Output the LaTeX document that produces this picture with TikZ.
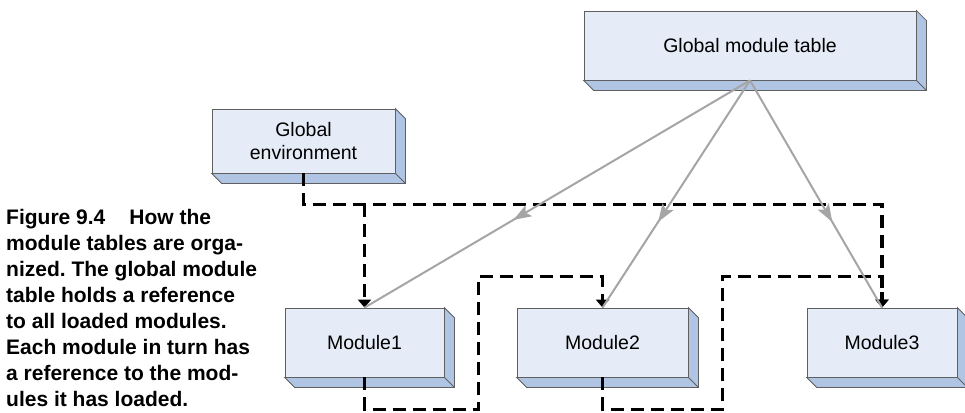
\documentclass[tikz,border=0pt]{standalone}
\usepackage{fontspec}
\setmainfont{Liberation Sans}
\usetikzlibrary{arrows.meta,decorations.markings,calc}

\definecolor{boxfront}{RGB}{230,236,247}
\definecolor{boxside}{RGB}{176,197,228}
\definecolor{boxedge}{RGB}{95,95,95}
\definecolor{tablegray}{RGB}{165,165,165}

\begin{document}
\frenchspacing
\begin{tikzpicture}[
  x=1pt, y=-1pt,
  every node/.style={font=\fontsize{19.5}{23}\selectfont},
  modbox/.style={draw=boxedge, line width=0.8pt, fill=boxfront,
    inner sep=0pt, minimum height=69pt, align=center},
  tabline/.style={draw=tablegray, line width=2pt, postaction={decorate},
    decoration={markings, mark=at position 0.6 with
      {\fill[tablegray] (6pt,0pt) -- (-12pt,6.5pt) -- (-8pt,0pt)
         -- (-12pt,-6.5pt) -- cycle;}}},
  refline/.style={line width=3.4pt, dash pattern=on 13pt off 7pt,
    -{Triangle[length=8pt,width=13pt]}}
]

\useasboundingbox (0,0) rectangle (965,412);

% --- front faces of the boxes ---
\node[modbox, minimum width=332pt] (gmt) at (750,45.5) {Global module table};
\node[modbox, minimum width=183pt, minimum height=64pt] (genv) at (303.5,141) {Global\\environment};
\node[modbox, minimum width=159pt] (mod1) at (364.5,342.5) {Module1};
\node[modbox, minimum width=171pt] (mod2) at (602.5,342.5) {Module2};
\node[modbox, minimum width=150pt] (mod3) at (882,342.5) {Module3};

% --- bottom and right sides (depth 10) ---
\foreach \n in {gmt,genv,mod1,mod2,mod3}{
  \filldraw[fill=boxside, draw=boxedge, line width=0.8pt]
    (\n.south west) -- ++(10,10) -| ($(\n.north east)+(10,10)$)
    -- (\n.north east) -- (\n.south east) -- cycle;
  \draw[boxedge, line width=0.8pt] (\n.south east) -- ++(10,10);
}

% --- caption ---
\node[anchor=north west, align=left, inner sep=0pt,
  font=\fontsize{21}{26}\selectfont\bfseries] (cap) at (6,209)
  {Figure 9.4\hspace{24pt}How the\\
   module tables are orga-\\
   nized. The global module\\
   table holds a reference\\
   to all loaded modules.\\
   Each module in turn has\\
   a reference to the mod-\\
   ules it has loaded.};

% --- global environment refers to module1 and module3 ---
\coordinate (bus) at ($(genv.south)+(0,31)$);
\draw[refline] (genv.south) -- (bus) -| (mod3.north);
\draw[refline] (bus -| mod1.north) -- (mod1.north);

% --- module1 loaded module2 ---
\draw[refline] (mod1.south) -- ++(0,32) -- ++(114,0)
  |- ($(mod2.north)+(0,-31)$) -- (mod2.north);

% --- module2 loaded module3 ---
\draw[refline] (mod2.south) -- ++(0,32) -- ++(120,0)
  |- ($(mod3.north)+(0,-31)$) -- (mod3.north);

% --- global module table holds all modules ---
\foreach \m in {mod1,mod2,mod3}
  \draw[tabline] (gmt.south) -- (\m.north);

\end{tikzpicture}
\end{document}
